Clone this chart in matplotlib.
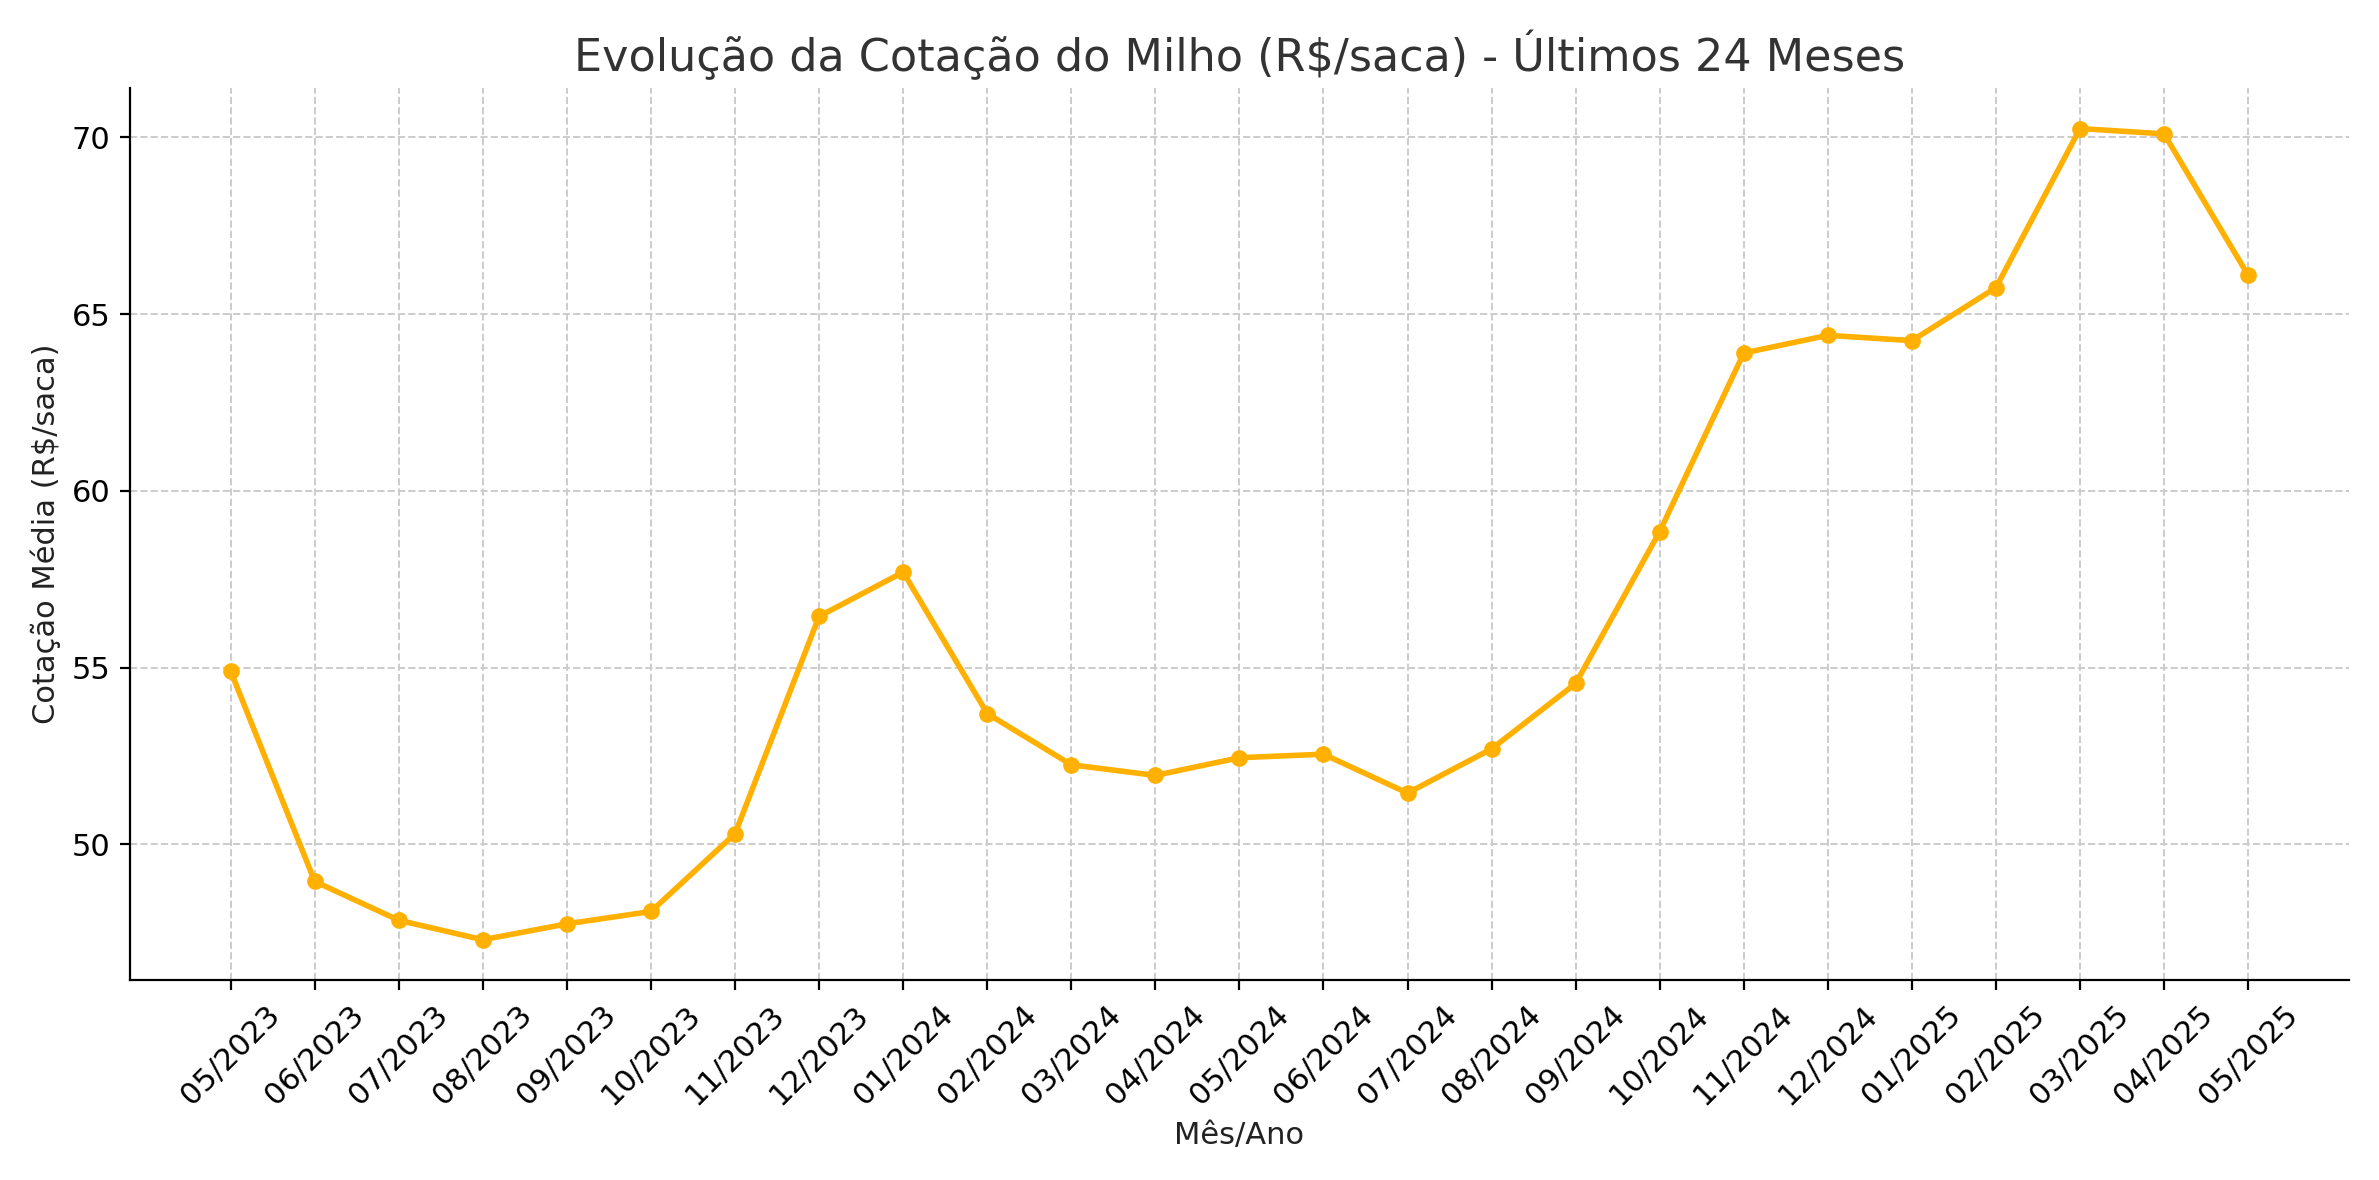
import matplotlib
matplotlib.use("Agg")
import matplotlib.pyplot as plt

months = ["05/2023","06/2023","07/2023","08/2023","09/2023","10/2023","11/2023","12/2023",
          "01/2024","02/2024","03/2024","04/2024","05/2024","06/2024","07/2024","08/2024",
          "09/2024","10/2024","11/2024","12/2024","01/2025","02/2025","03/2025","04/2025","05/2025"]
prices = [54.9,48.95,47.85,47.3,47.75,48.1,50.3,56.45,57.7,53.7,52.25,51.95,52.45,52.55,
          51.45,52.7,54.55,58.85,63.9,64.4,64.25,65.75,70.25,70.1,66.1]

fig, ax = plt.subplots(figsize=(11.895, 5.9), dpi=200)
ax.plot(months, prices, color="#FFB000", linewidth=2, marker="o", markersize=5)
ax.set_title("Evolução da Cotação do Milho (R$/saca) - Últimos 24 Meses", fontsize=16, color="#333333")
ax.set_xlabel("Mês/Ano", fontsize=11, color="#222222")
ax.set_ylabel("Cotação Média (R$/saca)", fontsize=11, color="#222222")
ax.grid(True, linestyle="--", color="#cccccc", linewidth=0.7)
ax.spines["top"].set_visible(False)
ax.spines["right"].set_visible(False)
ax.tick_params(axis="x", rotation=45, labelsize=11)
ax.tick_params(axis="y", labelsize=11)
fig.tight_layout()
fig.savefig("out.png", dpi=200)
